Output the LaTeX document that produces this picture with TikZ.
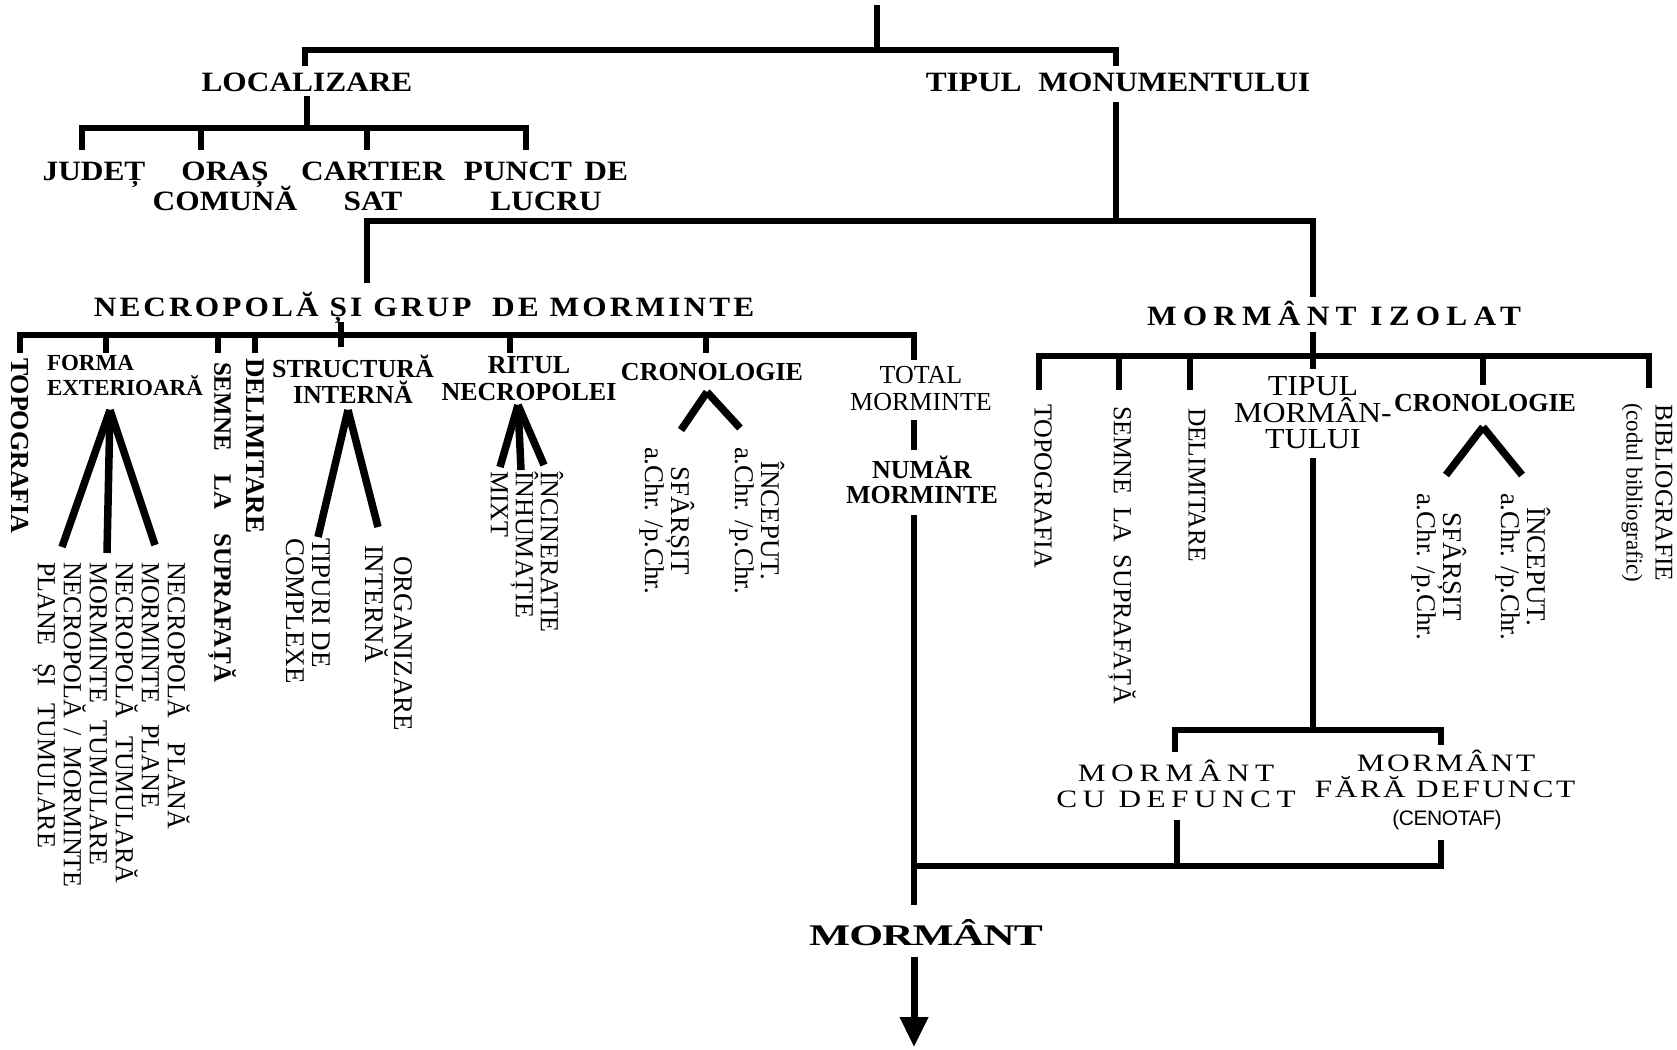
\documentclass[tikz,border=0pt]{standalone}
\usepackage{fontspec}
\setmainfont{Liberation Serif}
\newfontfamily\headfont{Liberation Serif}[FakeStretch=1.12]
\newfontfamily\headspaced{Liberation Serif}[FakeStretch=1.12,LetterSpace=11]
\newfontfamily\headwide{Liberation Serif}[FakeStretch=1.12,LetterSpace=22]
\newfontfamily\capsleft{Liberation Serif}[FakeStretch=1.25,LetterSpace=22]
\newfontfamily\capsright{Liberation Serif}[FakeStretch=1.25,LetterSpace=10]
\newfontfamily\bigfont{Liberation Serif}[FakeStretch=1.45,LetterSpace=-3]
\newfontfamily\tightfont{Liberation Serif}[FakeStretch=1.1]
\newfontfamily\sansnarrow{Liberation Sans}[LetterSpace=-2]
\usetikzlibrary{arrows.meta}
\begin{document}
\begin{tikzpicture}[x=1pt,y=-1pt,
  conn/.style={line width=5.5pt,line join=miter},
  fanline/.style={line width=7.5pt},
  hl/.style={inner sep=0pt,outer sep=0pt,anchor=base},
  vl/.style={inner sep=0pt,outer sep=0pt,rotate=-90,anchor=west,align=left},
  vc/.style={inner sep=0pt,outer sep=0pt,rotate=-90,anchor=west,align=center},
  headb/.style={font=\headfont\bfseries\fontsize{28}{30}\selectfont},
  subb/.style={font=\bfseries\fontsize{26}{26}\selectfont},
  formab/.style={font=\bfseries\fontsize{23}{25}\selectfont},
  txt/.style={font=\fontsize{26}{26}\selectfont},
  txtb/.style={font=\fontsize{27}{26}\selectfont},
  tmf/.style={font=\tightfont\fontsize{29}{29}\selectfont}
]
\fill[white] (0,0) rectangle (1677,1049);
\useasboundingbox (0,0) rectangle (1677,1049);

% ---------------- first level
\coordinate (root) at (877,5);
\coordinate (rootJ) at (877,50);
\coordinate (locTop) at (305,66);
\coordinate (tipCorner) at (1116,50);
\coordinate (tipTop) at (1116,66);
\draw[conn] (root) -- (rootJ);
\draw[conn] (locTop) |- (tipCorner) -- (tipTop);

\node[hl,headb] (loc) at (307,91) {LOCALIZARE};
\node[hl,headb] (tipmon) at (1118,91) {TIPUL\hspace{0.6em}MONUMENTULUI};

% ---------------- localizare
\coordinate (locDown) at (307,96);
\coordinate (locJ) at (307,128);
\coordinate (judT) at (82,150);
\coordinate (punCorner) at (526,128);
\coordinate (punT) at (526,150);
\coordinate (oraJ) at (201,128);
\coordinate (oraT) at (201,150);
\coordinate (carJ) at (367,128);
\coordinate (carT) at (367,150);
\draw[conn] (locDown) -- (locJ);
\draw[conn] (judT) |- (punCorner) -- (punT);
\draw[conn] (oraJ) -- (oraT);
\draw[conn] (carJ) -- (carT);

\node[hl,headb] (jud) at (94,180) {JUDEȚ};
\node[hl,headb] (ora1) at (225,180) {ORAȘ};
\node[hl,headb] (ora2) at (225,210) {COMUNĂ};
\node[hl,headb] (car1) at (373,180) {CARTIER};
\node[hl,headb] (car2) at (373,210) {SAT};
\node[hl,headb] (pun1) at (546,180) {PUNCT\hspace{0.45em}DE};
\node[hl,headb] (pun2) at (546,210) {LUCRU};

% ---------------- tipul monumentului
\coordinate (tipDown) at (1116,102);
\coordinate (tipJ) at (1116,221);
\coordinate (necT) at (367,283);
\coordinate (izoCorner) at (1313,221);
\coordinate (izoT) at (1313,297);
\draw[conn] (tipDown) -- (tipJ);
\draw[conn] (necT) |- (izoCorner) -- (izoT);

\node[hl,font=\headspaced\bfseries\fontsize{28}{30}\selectfont] (nec) at (424,316)
  {NECROPOLĂ ȘI GRUP\hspace{0.35em} DE MORMINTE};
\node[hl,font=\headwide\bfseries\fontsize{28}{30}\selectfont] (izo) at (1334,325)
  {MORMÂNT IZOLAT};

% ---------------- necropola bar
\coordinate (nTick1) at (341,322);
\coordinate (nTick2) at (341,347);
\coordinate (nTopoT) at (20,353);
\coordinate (nTotCorner) at (914,335);
\coordinate (nTotT) at (914,360);
\draw[conn] (nTick1) -- (nTick2);
\draw[conn] (nTopoT) |- (nTotCorner) -- (nTotT);
\foreach \xx/\nm in {106/form,218/semn,255/deli,510/rit,706/cron}{
  \coordinate (n\nm J) at (\xx,335);
  \coordinate (n\nm T) at (\xx,353);
  \draw[conn] (n\nm J) -- (n\nm T);
}

% topografia, forma exterioara
\node[vl,subb] (nTopo) at (20,358) {TOPOGRAFIA};
\node[hl,formab,anchor=base west] (forma1) at (47,370) {FORMA};
\node[hl,formab,anchor=base west] (forma2) at (47,395) {EXTERIOARĂ};
\coordinate (formApex) at (110,410);
\coordinate (formE1) at (62,547);
\coordinate (formE2) at (107,553);
\coordinate (formE3) at (155,545);
\draw[fanline] (formApex) -- (formE1);
\draw[fanline] (formApex) -- (formE2);
\draw[fanline] (formApex) -- (formE3);
\node[vl,font=\fontsize{26}{26}\selectfont] (formList) at (111,562)
  {NECROPOLĂ\hspace{0.95em}PLANĂ\\MORMINTE\hspace{0.8em}PLANE\\NECROPOLĂ\hspace{0.7em}TUMULARĂ\\MORMINTE\hspace{0.67em}TUMULARE\\NECROPOLĂ\hspace{0.4em}/\hspace{0.4em}MORMINTE\\PLANE\hspace{0.67em}ȘI\hspace{0.67em}TUMULARE};

\node[vl,font=\bfseries\fontsize{25}{26}\selectfont] (nSemn) at (222,362) {SEMNE\hspace{0.95em}LA\hspace{0.95em}SUPRAFAȚĂ};
\node[vl,font=\bfseries\fontsize{27}{26}\selectfont] (nDeli) at (255,358) {DELIMITARE};

% structura interna
\node[hl,subb] (str1) at (353,377) {STRUCTURĂ};
\node[hl,subb] (str2) at (353,403) {INTERNĂ};
\coordinate (strApex) at (348,410);
\coordinate (strE1) at (318,537);
\coordinate (strE2) at (378,527);
\draw[fanline] (strApex) -- (strE1);
\draw[fanline] (strApex) -- (strE2);
\node[vl,txtb] (strTip) at (308,538) {TIPURI DE\\COMPLEXE};
\node[vl,txtb] (strOrg1) at (403,556) {ORGANIZARE};
\node[vl,txtb] (strOrg2) at (377,545) {INTERNĂ};

% ritul necropolei
\node[hl,subb] (rit1) at (529,373) {RITUL};
\node[hl,subb] (rit2) at (529,400) {NECROPOLEI};
\coordinate (ritApex) at (518,405);
\coordinate (ritE1) at (500,467);
\coordinate (ritE2) at (521,470);
\coordinate (ritE3) at (544,465);
\draw[fanline] (ritApex) -- (ritE1);
\draw[fanline] (ritApex) -- (ritE2);
\draw[fanline] (ritApex) -- (ritE3);
\node[vl,font=\fontsize{26}{25}\selectfont] (ritList) at (527,471) {ÎNCINERATIE\\ÎNHUMAȚIE\\MIXT};

% cronologie (necropola)
\node[hl,subb] (cronN) at (712,380) {CRONOLOGIE};
\coordinate (cronNApex) at (707,392);
\coordinate (cronNE1) at (681,430);
\coordinate (cronNE2) at (740,428);
\draw[fanline] (cronNApex) -- (cronNE1);
\draw[fanline] (cronNApex) -- (cronNE2);
\node[vc,txtb] (cronNSf) at (667,447) {SFÂRȘIT\\a.Chr. /p.Chr.};
\node[vc,txtb] (cronNIn) at (757,447) {ÎNCEPUT.\\a.Chr. /p.Chr.};

% total / numar morminte
\node[hl,txt] (tot1) at (921,383) {TOTAL};
\node[hl,txt] (tot2) at (921,410) {MORMINTE};
\coordinate (totDown) at (914,420);
\coordinate (numUp) at (914,450);
\draw[conn] (totDown) -- (numUp);
\node[hl,subb] (num1) at (922,478) {NUMĂR};
\node[hl,subb] (num2) at (922,503) {MORMINTE};
\coordinate (numDown) at (914,515);
\coordinate (mormUp) at (914,905);
\draw[conn] (numDown) -- (mormUp);

% ---------------- mormant izolat bar
\coordinate (iDown1) at (1313,332);
\coordinate (iDown2) at (1313,369);
\coordinate (iTopoT) at (1039,390);
\coordinate (iBibCorner) at (1649,356);
\coordinate (iBibT) at (1649,388);
\draw[conn] (iDown1) -- (iDown2);
\draw[conn] (iTopoT) |- (iBibCorner) -- (iBibT);
\foreach \xx/\yy/\nm in {1119/390/semn,1190/390/deli,1483/385/cron}{
  \coordinate (i\nm J) at (\xx,356);
  \coordinate (i\nm T) at (\xx,\yy);
  \draw[conn] (i\nm J) -- (i\nm T);
}

\node[vl,txt] (iTopo) at (1043,404) {TOPOGRAFIA};
\node[vl,txt] (iSemn) at (1122,406) {SEMNE\hspace{0.5em}LA\hspace{0.5em}SUPRAFAȚĂ};
\node[vl,font=\fontsize{25.5}{26}\selectfont] (iDeli) at (1197,408) {DELIMITARE};

\node[hl,tmf] (tm1) at (1313,395) {TIPUL};
\node[hl,tmf] (tm2) at (1313,422) {MORMÂN-};
\node[hl,tmf] (tm3) at (1313,448) {TULUI};

\node[hl,subb] (cronI) at (1485,411) {CRONOLOGIE};
\coordinate (cronIApex) at (1483,427);
\coordinate (cronIE1) at (1446,475);
\coordinate (cronIE2) at (1522,475);
\draw[fanline] (cronIApex) -- (cronIE1);
\draw[fanline] (cronIApex) -- (cronIE2);
\node[vc,txtb] (cronISf) at (1439,493) {SFÂRȘIT\\a.Chr. /p.Chr.};
\node[vc,txtb] (cronIIn) at (1523,493) {ÎNCEPUT.\\a.Chr. /p.Chr.};

\node[vc,font=\fontsize{25.5}{29}\selectfont] (bib) at (1647,403)
  {BIBLIOGRAFIE\\\fontsize{23}{29}\selectfont(codul bibliografic)};

% ---------------- tipul mormantului
\coordinate (tmDown) at (1313,458);
\coordinate (tmJ) at (1313,730);
\coordinate (cuT) at (1175,752);
\coordinate (faraCorner) at (1441,730);
\coordinate (faraT) at (1441,745);
\draw[conn] (tmDown) -- (tmJ);
\draw[conn] (cuT) |- (faraCorner) -- (faraT);

\node[hl,font=\capsleft\fontsize{25}{26}\selectfont] (cu1) at (1176,781) {MORMÂNT};
\node[hl,font=\capsleft\fontsize{25}{26}\selectfont] (cu2) at (1176,807) {CU DEFUNCT};
\node[hl,font=\capsright\fontsize{25}{26}\selectfont] (fara1) at (1446,771) {MORMÂNT};
\node[hl,font=\capsright\fontsize{25}{26}\selectfont] (fara2) at (1445,797) {FĂRĂ DEFUNCT};
\node[hl,font=\sansnarrow\fontsize{21}{22}\selectfont] (fara3) at (1447,825) {(CENOTAF)};

\coordinate (cuDown) at (1177,820);
\coordinate (cuJ) at (1177,866);
\coordinate (faraDown) at (1441,840);
\coordinate (mormJ) at (914,866);
\draw[conn] (cuDown) -- (cuJ);
\draw[conn] (faraDown) |- (mormJ);

% ---------------- mormant
\node[hl,font=\bigfont\bfseries\fontsize{30}{32}\selectfont] (morm) at (926,945) {MORMÂNT};
\coordinate (arrS) at (914,957);
\coordinate (arrE) at (914,1047);
\draw[line width=7pt,-{Triangle[length=30pt,width=27pt]}] (arrS) -- (arrE);
\end{tikzpicture}
\end{document}
